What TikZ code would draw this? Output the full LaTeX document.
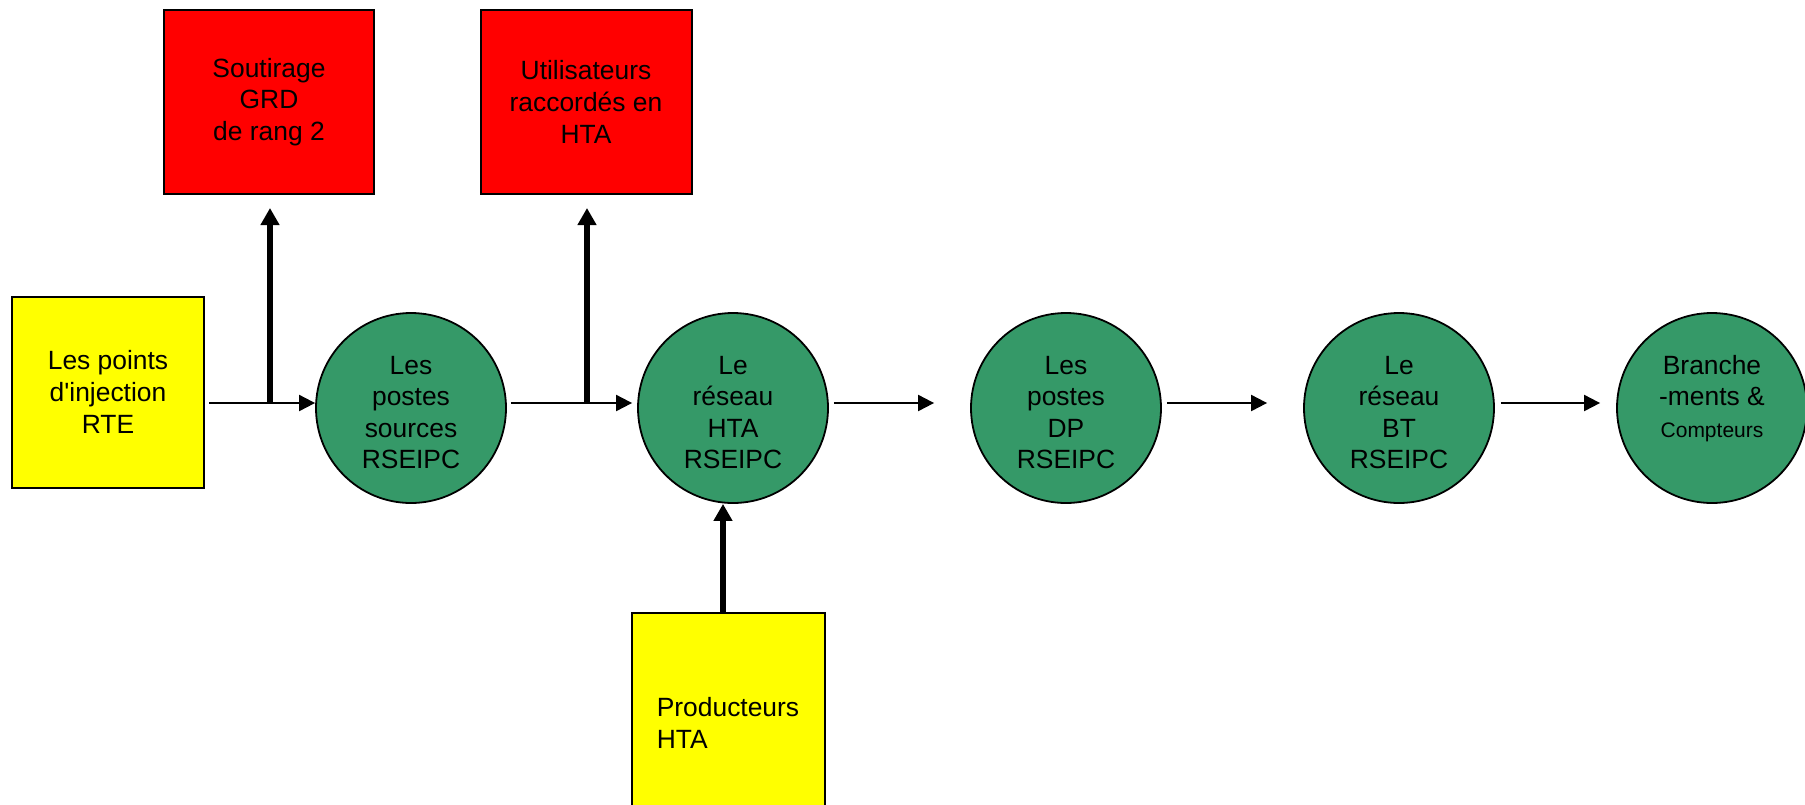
\documentclass[tikz,border=0pt]{standalone}
\usepackage{fontspec}
\setmainfont{Liberation Sans}
\usetikzlibrary{arrows.meta}
\definecolor{vert}{RGB}{53,153,104}
\definecolor{jaune}{RGB}{255,255,0}
\definecolor{rouge}{RGB}{255,0,0}
\tikzset{
  boite/.style={draw, line width=1pt, inner sep=0pt, align=center},
  poste/.style={circle, draw, line width=0.9pt, fill=vert, minimum size=95pt, inner sep=0pt, align=center,
    text height=61pt},
  flux/.style={line width=1pt, -{Triangle[length=8pt,width=8pt]}},
  gros/.style={line width=3pt, -{Triangle[length=8.5pt,width=9pt]}}
}
\begin{document}
\begin{tikzpicture}[x=0.5pt, y=-0.5pt, font=\fontsize{13.2}{15.8}\selectfont]
			\useasboundingbox (0,0) rectangle (1805,804);
			% boites
			\node[boite, fill=jaune, minimum width=96pt, minimum height=95.5pt] (rte) at (108,392) {Les points\\d\textquotesingle injection\\RTE};
			\node[boite, fill=rouge, minimum width=105pt, minimum height=92pt] (sout) at (269,102) {Soutirage\\GRD\\de rang 2};
			\node[boite, fill=rouge, minimum width=105.5pt, minimum height=92pt] (util) at (586,102) {Utilisateurs\\raccordés en\\HTA};
			\node[boite, fill=jaune, minimum width=96.5pt, minimum height=110pt, align=left] (prod) at (728,723) {Producteurs\\HTA};
			% postes
			\node[poste] (src) at (411,408) {Les\\postes\\sources\\RSEIPC};
			\node[poste] (hta) at (733,408) {Le\\réseau\\HTA\\RSEIPC};
			\node[poste] (dp) at (1066,408) {Les\\postes\\DP\\RSEIPC};
			\node[poste] (bt) at (1399,408) {Le\\réseau\\BT\\RSEIPC};
			\node[poste] (bc) at (1712,408) {Branche\\-ments \&\\{\fontsize{10.5}{12.6}\selectfont Compteurs}\\\mbox{}};
			\coordinate (j1) at (270,403);
			\coordinate (j2) at (587,403);
			\coordinate (j3) at (723,613);
			% fleches
			\draw[flux, shorten <=2pt] (rte.east |- j1) -- (src.west |- j1);
			\draw[flux, shorten <=2pt, shorten >=2.5pt] (src.east |- j2) -- (hta.west |- j2);
			\draw[flux, shorten <=2.5pt, shorten >=18pt] (hta.east |- j1) -- (dp.west |- j1);
			\draw[flux, shorten <=2.5pt, shorten >=18pt] (dp.east |- j1) -- (bt.west |- j1);
			\draw[flux, shorten <=3pt, shorten >=8pt] (bt.east |- j1) -- (bc.west |- j1);
			\draw[gros, shorten >=6.5pt] (j1) -- (j1 |- sout.south);
			\draw[gros, shorten >=6.5pt] (j2) -- (j2 |- util.south);
			\draw[gros] (j3) -- (j3 |- hta.south);
\end{tikzpicture}
\end{document}
